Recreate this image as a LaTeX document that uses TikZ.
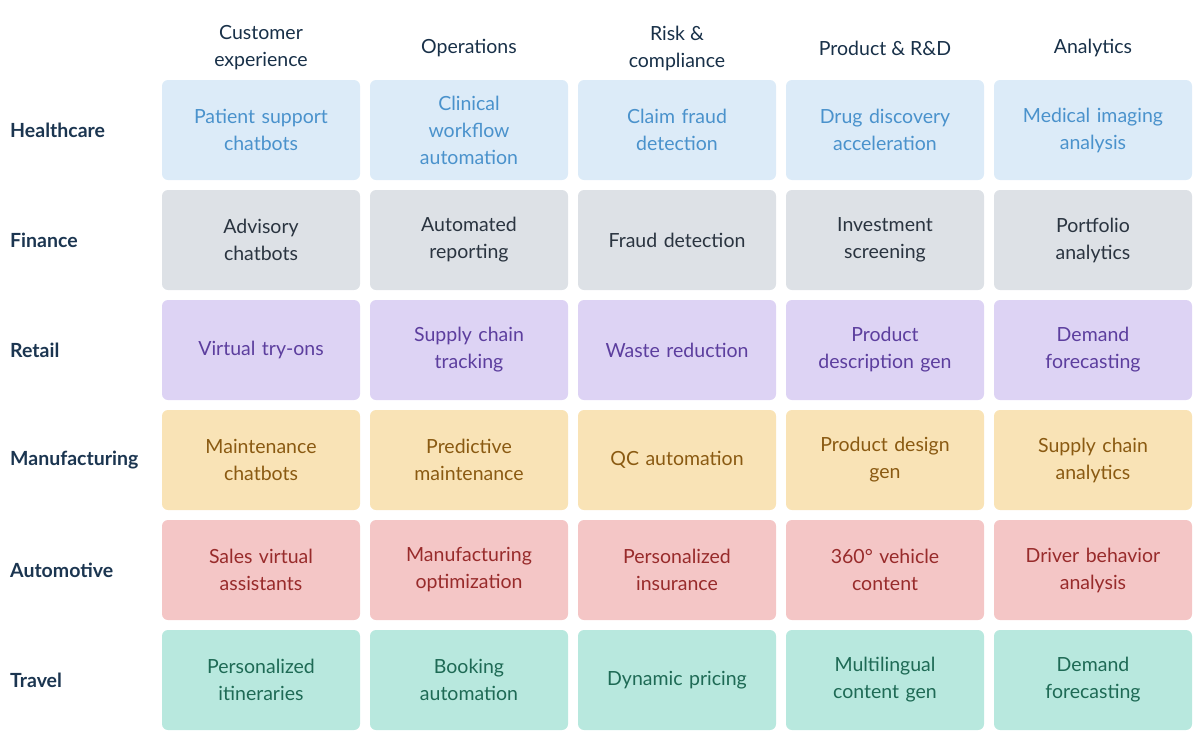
\documentclass[tikz,border=0pt]{standalone}
\usepackage{fontspec}
\setmainfont{Lato}
\begin{document}
\begin{tikzpicture}[x=1pt,y=-1pt,
 cell/.style={rounded corners=6pt,minimum width=198pt,minimum height=100pt,align=center,font=\fontsize{19.5}{27}\selectfont,inner sep=0pt,text width=190pt},
 hc/.style={cell,fill=hcb,text=hct}, fi/.style={cell,fill=fib,text=fit},
 re/.style={cell,fill=reb,text=ret}, ma/.style={cell,fill=mab,text=mat},
 au/.style={cell,fill=aub,text=aut}, tr/.style={cell,fill=trb,text=trt},
 rowl/.style={anchor=west,font=\bfseries\fontsize{19.5}{24}\selectfont,text=navy,inner sep=0pt},
 head/.style={align=center,font=\fontsize{19.5}{27}\selectfont,text=navy!90!black,inner sep=0pt}]
\definecolor{navy}{HTML}{1B3550}
\definecolor{hcb}{HTML}{DCEBF8}\definecolor{hct}{HTML}{4A92CC}
\definecolor{fib}{HTML}{DDE1E6}\definecolor{fit}{HTML}{2A3440}
\definecolor{reb}{HTML}{DDD3F4}\definecolor{ret}{HTML}{5C3E9E}
\definecolor{mab}{HTML}{F9E3B6}\definecolor{mat}{HTML}{8A5A12}
\definecolor{aub}{HTML}{F4C6C6}\definecolor{aut}{HTML}{982B2B}
\definecolor{trb}{HTML}{B8E8DE}\definecolor{trt}{HTML}{1E6A55}
\useasboundingbox (0,0) rectangle (1200,742);
\foreach \t [count=\i] in {Customer\\experience,Operations,Risk \&\\compliance,Product \& R\&D,Analytics}
  \node[head] (h\i) at ({261+208*(\i-1)},48) {\t};
\foreach \t/\s [count=\j] in {Healthcare/hc,Finance/fi,Retail/re,Manufacturing/ma,Automotive/au,Travel/tr}
  \node[rowl] (r\j) at (10,{130+110*(\j-1)}) {\t};
\def\row#1#2#3#4#5#6#7{%
 \node[#1] (c#2a) at (261,#3) {#4};}
\newcommand\mkrow[7]{%
 \node[#1] (c#2a) at (261,#3) {#4};
 \node[#1] (c#2b) at (469,#3) {#5};
 \node[#1] (c#2c) at (677,#3) {#6};
 \node[#1] (c#2d) at (885,#3) {#7};}
\mkrow{hc}{1}{130}{Patient support\\chatbots}{Clinical\\workflow\\automation}{Claim fraud\\detection}{Drug discovery\\acceleration}
\node[hc] (c1e) at (1093,130) {Medical imaging\\analysis};
\mkrow{fi}{2}{240}{Advisory\\chatbots}{Automated\\reporting}{Fraud detection}{Investment\\screening}
\node[fi] (c2e) at (1093,240) {Portfolio\\analytics};
\mkrow{re}{3}{350}{Virtual try-ons}{Supply chain\\tracking}{Waste reduction}{Product\\description gen}
\node[re] (c3e) at (1093,350) {Demand\\forecasting};
\mkrow{ma}{4}{460}{Maintenance\\chatbots}{Predictive\\maintenance}{QC automation}{Product design\\gen}
\node[ma] (c4e) at (1093,460) {Supply chain\\analytics};
\mkrow{au}{5}{570}{Sales virtual\\assistants}{Manufacturing\\optimization}{Personalized\\insurance}{360° vehicle\\content}
\node[au] (c5e) at (1093,570) {Driver behavior\\analysis};
\mkrow{tr}{6}{680}{Personalized\\itineraries}{Booking\\automation}{Dynamic pricing}{Multilingual\\content gen}
\node[tr] (c6e) at (1093,680) {Demand\\forecasting};
\end{tikzpicture}
\end{document}
